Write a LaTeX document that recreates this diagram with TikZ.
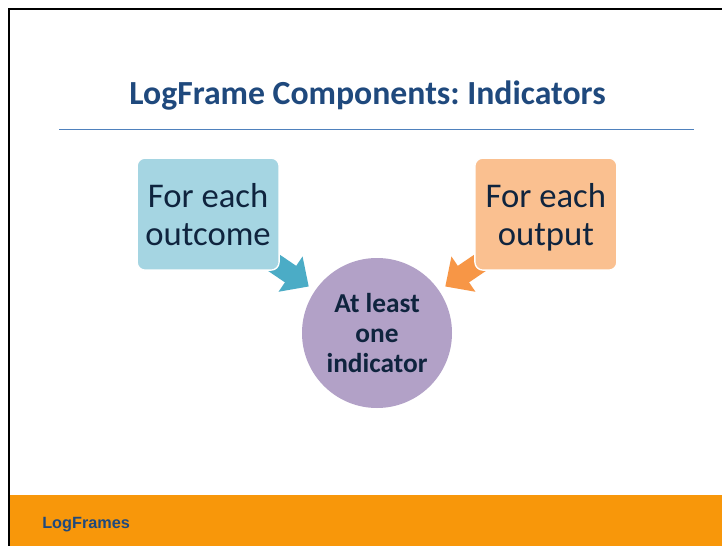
\documentclass[tikz,border=0pt]{standalone}
\usepackage{fontspec}
\setmainfont{Carlito}
\newfontfamily\footfont{Liberation Sans}
\usetikzlibrary{positioning,arrows.meta,backgrounds}

\definecolor{titleblue}{HTML}{1F497D}
\definecolor{ruleblue}{HTML}{4F81BD}
\definecolor{textnavy}{HTML}{0F243E}
\definecolor{outcomefill}{HTML}{A5D5E2}
\definecolor{outputfill}{HTML}{FAC090}
\definecolor{hubfill}{HTML}{B2A1C7}
\definecolor{arrowblue}{HTML}{4BACC6}
\definecolor{arroworange}{HTML}{F79646}
\definecolor{footorange}{HTML}{F8970A}

\tikzset{
  compbox/.style={rectangle, rounded corners=6pt, draw=white, line width=1pt,
    minimum width=106.5pt, minimum height=84pt, align=center, text=textnavy,
    text depth=0pt, font=\fontsize{26}{28.5}\selectfont},
  hubdisc/.style={circle, fill=hubfill, minimum size=112.5pt, inner sep=0pt,
    align=center, text=textnavy, font=\bfseries\fontsize{20.5}{22.5}\selectfont},
  fatarrow/.style={line width=15pt, -{Triangle[length=16.5pt,width=31pt]},
    shorten <=-12pt, shorten >=5.5pt},
}

\begin{document}
\begin{tikzpicture}[x=0.75pt, y=-0.75pt]

    \useasboundingbox (0,0) rectangle (722,546);

    % Slide background
    \begin{scope}[on background layer]
      \fill[white] (0,0) rectangle (722,546);
      \fill[footorange] (9,495) rectangle (722,546);
    \end{scope}
    \draw[black, line width=1.5pt] (8.5,546) -- (8.5,8.5) -- (722,8.5);

    % Define nodes
    \node[text=titleblue, font=\bfseries\fontsize{25.3}{28}\selectfont] (title) at (367.5,96) {LogFrame Components:\ Indicators};
    \coordinate (ruleL) at (59,129);
    \coordinate (ruleR) at (694,129);

    \node[hubdisc]                                        (hub)     at (377,333) {At least\\one\\indicator};
    \node[compbox, fill=outcomefill, above left=6.75pt and 33pt of hub]  (outcome) {For each\\outcome};
    \node[compbox, fill=outputfill, above right=6.75pt and 33pt of hub]  (output)  {For each\\output};

    \node[anchor=west, inner sep=0pt, text=titleblue, font=\footfont\bfseries\fontsize{12.2}{14}\selectfont] (footer) at (42,525) {LogFrames};

    % Connect the nodes
    \draw[ruleblue, line width=0.75pt] (ruleL) -- (ruleR);
    \begin{scope}[on background layer]
      \draw[fatarrow, arrowblue]   ([yshift=3pt]outcome.south east) -- (hub);
      \draw[fatarrow, arroworange] ([yshift=3pt]output.south west) -- (hub);
    \end{scope}

\end{tikzpicture}
\end{document}
